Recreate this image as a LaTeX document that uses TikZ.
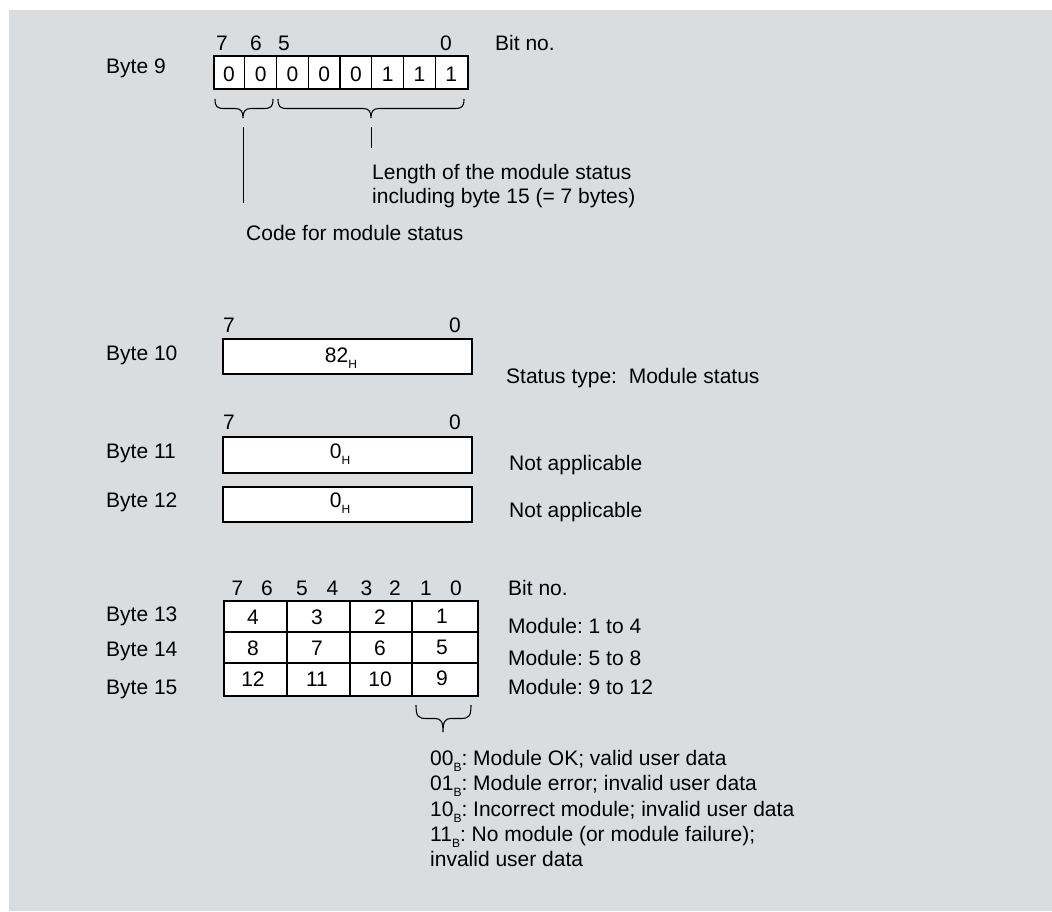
\documentclass[tikz,border=0pt]{standalone}
\usepackage{fontspec}
\setmainfont{Liberation Sans}
\frenchspacing
\definecolor{panel}{RGB}{218,221,224}
\newcommand{\lowsub}[1]{\raisebox{-6.5pt}{\fontsize{12}{12}\selectfont #1}}
\newcommand{\cbrace}[6]{% left x, right x, mid x, top y, tip y, corner
  \draw[bracestyle] (#1,#4) .. controls (#1,{(#4+#5)/2-2}) and ({#1+2},{(#4+#5)/2}) .. ({#1+#6},{(#4+#5)/2})
    -- ({#3-8},{(#4+#5)/2}) .. controls ({#3-2},{(#4+#5)/2}) and (#3,{(#4+#5)/2+3}) .. (#3,#5)
    .. controls (#3,{(#4+#5)/2+3}) and ({#3+2},{(#4+#5)/2}) .. ({#3+8},{(#4+#5)/2})
    -- ({#2-#6},{(#4+#5)/2}) .. controls ({#2-2},{(#4+#5)/2}) and (#2,{(#4+#5)/2-2}) .. (#2,#4);}
\begin{document}
\begin{tikzpicture}[x=1pt,y=-1pt,
  lbl/.style={anchor=base west,inner sep=0pt,font=\fontsize{21}{25}\selectfont},
  num/.style={anchor=base,inner sep=0pt,font=\fontsize{21}{25}\selectfont},
  regbox/.style={draw,line width=2pt,fill=white,inner sep=0pt,anchor=north west},
  divider/.style={line width=1.4pt},
  bracestyle/.style={line width=1.1pt},
  leader/.style={line width=1pt}]
\useasboundingbox (0,0) rectangle (1052,911);
\fill[panel] (9,10) rectangle (1052,911);

% ---------- Byte 9 ----------
\node[lbl] (lb9) at (106,73) {Byte 9};
\node[regbox,minimum width=254pt,minimum height=33pt] (b9) at (213,55) {};
\foreach \i in {1,...,7} {\draw[divider] ({213+\i*31.75},55) -- ({213+\i*31.75},88);}
\foreach \v [count=\i] in {0,0,0,0,0,1,1,1} {
  \node[num] (b9c\i) at ({213+(\i-0.5)*31.75},81.5) {\v};}
\node[num] (b9n7) at (222,50) {7};
\node[num] (b9n6) at (256,50) {6};
\node[num] (b9n5) at (284,50) {5};
\node[num] (b9n0) at (446,50) {0};
\node[lbl] (bitno1) at (495,50) {Bit no.};
\cbrace{215}{273}{243}{99}{118}{9}
\cbrace{278}{464}{371}{99}{118}{9}
\coordinate (l1a) at (243,127); \coordinate (l1b) at (243,203);
\coordinate (l2a) at (371,127); \coordinate (l2b) at (371,148);
\draw[leader] (l1a) -- (l1b);
\draw[leader] (l2a) -- (l2b);
\node[lbl] (len1) at (372,179) {Length of the module status};
\node[lbl] (len2) at (372,203) {including byte 15 (= 7 bytes)};
\node[lbl] (code) at (246,240) {Code for module status};

% ---------- Byte 10 ----------
\node[num] (b10n7) at (229,332) {7};
\node[num] (b10n0) at (455,332) {0};
\node[lbl] (lb10) at (106,360) {Byte 10};
\node[regbox,minimum width=249pt,minimum height=35pt] (b10) at (222,338) {};
\node[num] (v10) at (341,362) {82\lowsub{H}};
\node[lbl] (st) at (506,383) {Status type:\ \ Module status};

% ---------- Byte 11 / 12 ----------
\node[num] (b11n7) at (229,429) {7};
\node[num] (b11n0) at (455,429) {0};
\node[lbl] (lb11) at (106,458) {Byte 11};
\node[regbox,minimum width=249pt,minimum height=36pt] (b11) at (222,436) {};
\node[num] (v11) at (340,458) {0\lowsub{H}};
\node[lbl] (na1) at (509,470) {Not applicable};
\node[lbl] (lb12) at (106,507) {Byte 12};
\node[regbox,minimum width=249pt,minimum height=35pt] (b12) at (222,486) {};
\node[num] (v12) at (340,507) {0\lowsub{H}};
\node[lbl] (na2) at (509,517) {Not applicable};

% ---------- Byte 13-15 ----------
\foreach \d/\x in {7/237.5,6/267,5/302,4/332.5,3/366.5,2/395,1/426,0/456} {
  \node[num] (tn\d) at (\x,595) {\d};}
\node[lbl] (bitno2) at (508,595) {Bit no.};
\node[lbl] (lb13) at (106,621) {Byte 13};
\node[lbl] (lb14) at (106,656) {Byte 14};
\node[lbl] (lb15) at (106,694) {Byte 15};
\node[regbox,minimum width=254pt,minimum height=95pt] (tbl) at (223,600) {};
\draw[divider] (287,600) -- (287,695);
\draw[divider] (350,600) -- (350,695);
\draw[divider] (412,600) -- (412,695);
\draw[divider] (223,632) -- (477,632);
\draw[divider] (223,663) -- (477,663);
\foreach \a/\b/\c/\d [count=\r] in {4/3/2/1,8/7/6/5,12/11/10/9} {
  \node[num] (c\r a) at (253,{593+31*\r}) {\a};
  \node[num] (c\r b) at (317,{593+31*\r}) {\b};
  \node[num] (c\r c) at (380,{593+31*\r}) {\c};
  \node[num] (c\r d) at (442,{592+31*\r}) {\d};}
\node[lbl] (m1) at (508,633) {Module: 1 to 4};
\node[lbl] (m2) at (508,665) {Module: 5 to 8};
\node[lbl] (m3) at (508,694) {Module: 9 to 12};
\cbrace{416}{471}{443}{705}{732}{11}
\node[lbl] (s1) at (430,765) {00\lowsub{B}: Module OK; valid user data};
\node[lbl] (s2) at (430,790) {01\lowsub{B}: Module error; invalid user data};
\node[lbl] (s3) at (430,816) {10\lowsub{B}: Incorrect module; invalid user data};
\node[lbl] (s4) at (430,841) {11\lowsub{B}: No module (or module failure);};
\node[lbl] (s5) at (430,866) {invalid user data};
\end{tikzpicture}
\end{document}
